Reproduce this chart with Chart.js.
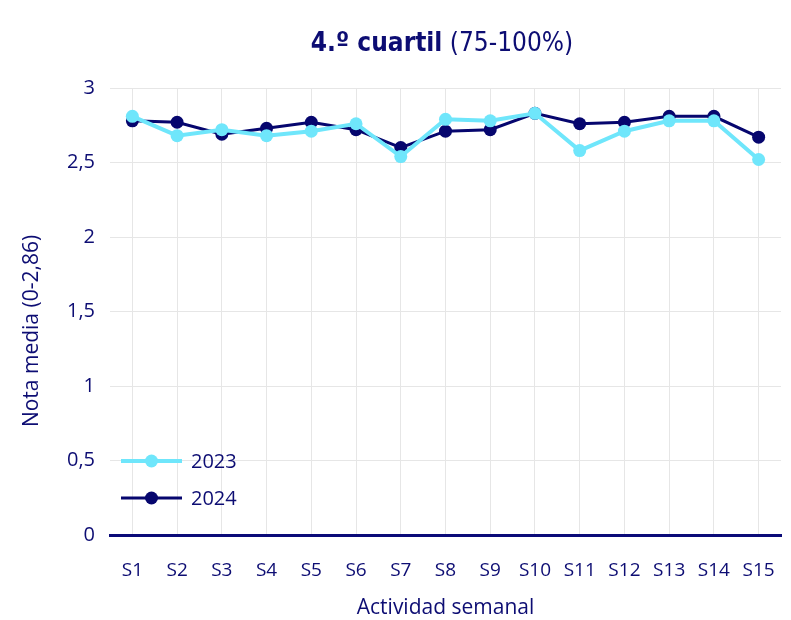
<!DOCTYPE html>
<html>
<head>
<meta charset="utf-8">
<script src="https://cdn.jsdelivr.net/npm/chart.js@4/dist/chart.umd.min.js"></script>
<style>
  html, body { margin: 0; padding: 0; background: #ffffff; }
  #wrap { position: relative; width: 791px; height: 620px; }
  #title { position: absolute; left: 0; width: 884px; top: 24px; text-align: center;
           font-family: "Liberation Sans Narrow", "DejaVu Sans Condensed", "Noto Sans", sans-serif;
           font-size: 26px; color: #0d0d73; line-height: 36px; white-space: nowrap; }
  #title b { font-weight: 700; }
  #title span { font-weight: 400; }
  canvas { position: absolute; left: 0; top: 0; }
</style>
</head>
<body>
<div id="wrap">
  <canvas id="c" width="791" height="620"></canvas>
  <div id="title"><b>4.º cuartil</b> <span>(75-100%)</span></div>
</div>
<script>
const categories = ["S1","S2","S3","S4","S5","S6","S7","S8","S9","S10","S11","S12","S13","S14","S15"];
const seriesNames = ["2023", "2024"];
const values2023 = [2.81, 2.68, 2.72, 2.68, 2.71, 2.76, 2.54, 2.79, 2.78, 2.83, 2.58, 2.71, 2.78, 2.78, 2.52];
const values2024 = [2.78, 2.77, 2.69, 2.73, 2.77, 2.72, 2.60, 2.71, 2.72, 2.83, 2.76, 2.77, 2.81, 2.81, 2.67];
const yTickValues = [0, 0.5, 1, 1.5, 2, 2.5, 3];
const yAxisTitle = "Nota media (0-2,86)";
const xAxisTitle = "Actividad semanal";

const NAVY = "#0d0d73";
const LINE24 = "#06066e";
const CYAN = "#6fe6fb";
const GRID = "#e6e6e6";
const FONT = '"Open Sans", "Noto Sans", sans-serif';

const customText = {
  id: "customText",
  afterDraw(chart) {
    const ctx = chart.ctx;
    const area = chart.chartArea;
    ctx.save();
    ctx.fillStyle = NAVY;
    ctx.font = "21px " + FONT;
    ctx.textAlign = "center";
    ctx.textBaseline = "middle";
    ctx.fillText(xAxisTitle, (area.left + area.right) / 2, 608);
    ctx.save();
    ctx.translate(32, 331);
    ctx.rotate(-Math.PI / 2);
    ctx.fillText(yAxisTitle, 0, 0);
    ctx.restore();
    chart.data.datasets.forEach((ds, i) => {
      const y = 461 + i * 37;
      ctx.strokeStyle = ds.borderColor;
      ctx.lineWidth = ds.borderWidth;
      ctx.beginPath();
      ctx.moveTo(121, y);
      ctx.lineTo(182, y);
      ctx.stroke();
      ctx.fillStyle = ds.pointBackgroundColor;
      ctx.beginPath();
      ctx.arc(151.5, y, 6.5, 0, Math.PI * 2);
      ctx.fill();
      ctx.fillStyle = NAVY;
      ctx.textAlign = "left";
      ctx.font = "20px " + FONT;
      ctx.fillText(ds.label, 191, y + 1);
    });
    ctx.restore();
  }
};

new Chart(document.getElementById("c"), {
  type: "line",
  data: {
    labels: categories,
    datasets: [
      { label: seriesNames[0], data: values2023, borderColor: CYAN, backgroundColor: CYAN,
        pointBackgroundColor: CYAN, pointBorderColor: CYAN, borderWidth: 4, pointRadius: 6.5,
        pointBorderWidth: 0, tension: 0 },
      { label: seriesNames[1], data: values2024, borderColor: LINE24, backgroundColor: LINE24,
        pointBackgroundColor: LINE24, pointBorderColor: LINE24, borderWidth: 3, pointRadius: 6.5,
        pointBorderWidth: 0, tension: 0 }
    ]
  },
  options: {
    responsive: false,
    animation: false,
    devicePixelRatio: 1,
    layout: { padding: { top: 88, right: 10, left: 0, bottom: 0 } },
    plugins: { legend: { display: false }, title: { display: false }, tooltip: { enabled: false } },
    scales: {
      x: {
        type: "category",
        offset: true,
        grid: { offset: false, color: GRID, lineWidth: 1, drawTicks: false },
        border: { display: true, color: "#0a0a78", width: 3 },
        ticks: { color: NAVY, font: { size: 19, family: FONT }, padding: 24, maxRotation: 0, autoSkip: false },
        afterFit(scale) { scale.height = 85; scale.paddingLeft = 0; scale.paddingRight = 0; }
      },
      y: {
        min: 0, max: 3,
        afterBuildTicks(scale) { scale.ticks = yTickValues.map(v => ({ value: v })); },
        grid: { color: GRID, lineWidth: 1, drawTicks: false },
        border: { display: false },
        ticks: { color: NAVY, font: { size: 20, family: FONT }, padding: 15,
                 callback: v => String(v).replace(".", ",") },
        afterFit(scale) { scale.width = 110; scale.paddingTop = 0; scale.paddingBottom = 0; }
      }
    }
  },
  plugins: [customText]
});
</script>
</body>
</html>
